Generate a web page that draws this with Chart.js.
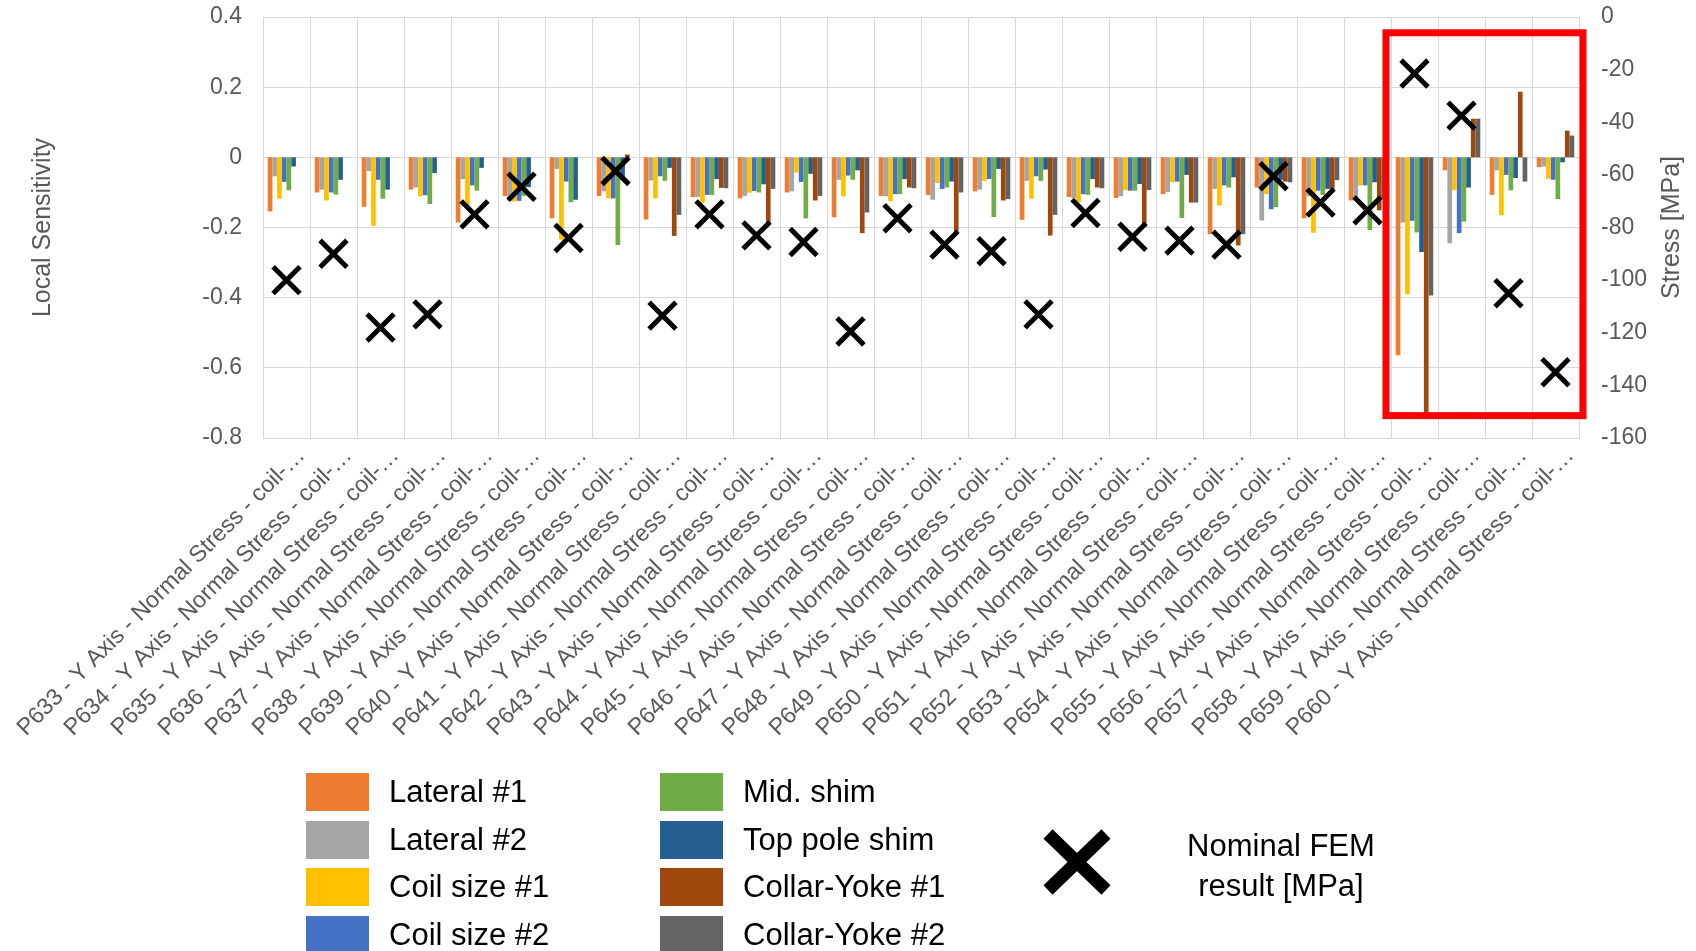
<!DOCTYPE html>
<html>
<head>
<meta charset="utf-8">
<script src="https://cdn.jsdelivr.net/npm/chart.js@4.4.0/dist/chart.umd.min.js"></script>
<style>
  body { margin: 0; background: #fff; font-family: "Liberation Sans", Arial, sans-serif; }
  #wrap { position: relative; width: 1696px; height: 951px; overflow: hidden; }
  #chart { position: absolute; left: 0; top: 0; }
  .key { position: absolute; height: 38px; line-height: 38px; font-size: 31px; color: #000; white-space: nowrap; }
  .key i { position: absolute; left: 0; top: 0; width: 63px; height: 38px; }
  .key span { position: absolute; left: 83px; top: 0; }
  #femKey { position: absolute; left: 1131px; top: 826px; width: 300px; text-align: center; font-size: 31px; line-height: 40px; color: #000; }
</style>
</head>
<body>
<div id="wrap">
  <canvas id="chart" width="1696" height="951"></canvas>
  <div id="legend"></div>
  <svg style="position:absolute;left:1035px;top:822px" width="84" height="80">
    <line x1="13" y1="12" x2="71" y2="68" stroke="#000" stroke-width="13"/>
    <line x1="71" y1="12" x2="13" y2="68" stroke="#000" stroke-width="13"/>
  </svg>
  <div id="femKey">Nominal FEM<br>result [MPa]</div>
</div>
<script>
const points = ["P633","P634","P635","P636","P637","P638","P639","P640","P641","P642","P643","P644","P645","P646",
  "P647","P648","P649","P650","P651","P652","P653","P654","P655","P656","P657","P658","P659","P660"];
const labels = points.map(p => p + " - Y Axis - Normal Stress - coil-…");

// local sensitivity per parameter (left axis)
const lateral1 = [-0.154,-0.100,-0.141,-0.092,-0.186,-0.110,-0.174,-0.110,-0.177,-0.113,-0.117,-0.100,-0.171,-0.110,
  -0.107,-0.097,-0.178,-0.113,-0.116,-0.105,-0.219,-0.086,-0.174,-0.123,-0.564,-0.037,-0.107,-0.028];
const lateral2 = [-0.054,-0.092,-0.039,-0.086,-0.062,-0.124,-0.033,-0.097,-0.066,-0.113,-0.110,-0.097,-0.064,-0.111,
  -0.121,-0.092,-0.067,-0.116,-0.111,-0.099,-0.090,-0.180,-0.111,-0.116,-0.186,-0.245,-0.037,-0.026];
const coilSize1 = [-0.118,-0.123,-0.195,-0.111,-0.140,-0.126,-0.235,-0.117,-0.117,-0.130,-0.101,-0.043,-0.111,-0.125,
  -0.073,-0.067,-0.118,-0.128,-0.094,-0.071,-0.137,-0.105,-0.215,-0.080,-0.390,-0.094,-0.165,-0.061];
const coilSize2 = [-0.070,-0.100,-0.064,-0.108,-0.080,-0.124,-0.069,-0.117,-0.054,-0.107,-0.096,-0.070,-0.052,-0.105,
  -0.090,-0.062,-0.054,-0.105,-0.095,-0.069,-0.080,-0.148,-0.095,-0.080,-0.181,-0.216,-0.050,-0.064];
const midShim = [-0.094,-0.106,-0.118,-0.133,-0.095,-0.110,-0.128,-0.250,-0.067,-0.107,-0.100,-0.174,-0.064,-0.105,
  -0.086,-0.170,-0.067,-0.107,-0.095,-0.173,-0.086,-0.142,-0.107,-0.207,-0.214,-0.183,-0.094,-0.119];
const topPoleShim = [-0.026,-0.064,-0.092,-0.045,-0.030,-0.085,-0.121,-0.064,-0.030,-0.062,-0.077,-0.047,-0.037,-0.062,
  -0.069,-0.033,-0.035,-0.062,-0.076,-0.050,-0.057,-0.064,-0.090,-0.071,-0.270,-0.086,-0.059,-0.014];
const collarYoke1 = [0,0,0,0,0,0,0,0.008,-0.224,-0.087,-0.190,-0.123,-0.216,-0.086,
  -0.212,-0.123,-0.223,-0.086,-0.198,-0.129,-0.251,-0.069,-0.092,-0.151,-0.730,0.110,0.187,0.076];
const collarYoke2 = [0,0,0,0,0,0,0,0,-0.164,-0.088,-0.090,-0.110,-0.157,-0.088,
  -0.100,-0.119,-0.164,-0.088,-0.093,-0.129,-0.219,-0.071,-0.065,-0.120,-0.394,0.110,-0.069,0.062];

// nominal FEM stress, MPa (right axis)
const femStress = [-100,-90,-118,-113,-75,-64.5,-84,-58.5,-113.5,-75,-83,-85.5,-119.5,-76.5,
  -86.5,-89,-113,-74.5,-83.5,-85,-86.5,-60.5,-70.5,-73.5,-21.5,-37.5,-105,-135];

const seriesNames = ["Lateral #1","Lateral #2","Coil size #1","Coil size #2","Mid. shim","Top pole shim","Collar-Yoke #1","Collar-Yoke #2"];
const seriesData = [lateral1, lateral2, coilSize1, coilSize2, midShim, topPoleShim, collarYoke1, collarYoke2];
const seriesColors = ["#ED7D31","#A5A5A5","#FFC000","#4472C4","#70AD47","#255E91","#9E480E","#636363"];

const FONT = '"Liberation Sans", Arial, sans-serif';
const GRID = "#d9d9d9";
const TXT = "#595959";

// html legend, two columns of four
const legend = document.getElementById("legend");
seriesNames.forEach((name, i) => {
  const col = Math.floor(i / 4), row = i % 4;
  const d = document.createElement("div");
  d.className = "key";
  d.style.left = (col ? 660 : 306) + "px";
  d.style.top = (773 + row * 47.5) + "px";
  d.innerHTML = '<i style="background:' + seriesColors[i] + '"></i><span>' + name + "</span>";
  legend.appendChild(d);
});

const overlay = {
  id: "overlay",
  afterDraw(chart) {
    const c = chart.ctx, xs = chart.scales.x, y1 = chart.scales.y1;
    // right axis title, reads bottom to top
    c.save();
    c.translate(1672, (chart.chartArea.top + chart.chartArea.bottom) / 2);
    c.rotate(-Math.PI / 2);
    c.font = "25px " + FONT;
    c.fillStyle = TXT;
    c.textAlign = "center";
    c.textBaseline = "middle";
    c.fillText("Stress [MPa]", 0, 0);
    c.restore();
    // red highlight box around the last four points
    const left = (xs.getPixelForValue(23) + xs.getPixelForValue(24)) / 2 - 5;
    const right = chart.chartArea.right + 4;
    const top = y1.getPixelForValue(-6);
    const bottom = y1.getPixelForValue(-151.5);
    c.save();
    c.strokeStyle = "#ff0000";
    c.lineWidth = 7;
    c.strokeRect(left, top, right - left, bottom - top);
    c.restore();
  }
};

const datasets = seriesNames.map((name, i) => ({
  label: name,
  data: seriesData[i],
  backgroundColor: seriesColors[i],
  borderWidth: 0,
  yAxisID: "y",
  categoryPercentage: 0.8,
  barPercentage: 1.0,
  order: 1
}));
datasets.push({
  type: "line",
  label: "Nominal FEM result [MPa]",
  data: femStress,
  yAxisID: "y1",
  showLine: false,
  pointStyle: "crossRot",
  pointRadius: 19,
  pointBorderWidth: 5,
  borderWidth: 5,
  borderColor: "#000",
  backgroundColor: "#000",
  order: 0
});

new Chart(document.getElementById("chart"), {
  type: "bar",
  data: { labels: labels, datasets: datasets },
  options: {
    responsive: false,
    animation: false,
    layout: { autoPadding: false, padding: { top: 17, left: 0, right: 0, bottom: 0 } },
    plugins: { legend: { display: false }, tooltip: { enabled: false } },
    scales: {
      x: {
        grid: { color: GRID, drawTicks: false, offset: true },
        border: { color: GRID },
        ticks: { autoSkip: false, maxRotation: 45, minRotation: 45, color: TXT, padding: 4, labelOffset: 15,
          font: { size: 23.3, family: FONT } },
        afterFit(s) { s.height = 513; s.paddingLeft = 0; s.paddingRight = 0; }
      },
      y: {
        position: "left",
        min: -0.8, max: 0.4,
        grid: { color: GRID, drawTicks: false },
        border: { color: GRID },
        ticks: { stepSize: 0.2, padding: 21, color: TXT, font: { size: 23, family: FONT },
          callback: v => String(+v.toFixed(1)) },
        title: { display: true, text: "Local Sensitivity", color: TXT, font: { size: 25, family: FONT },
          padding: { top: 28, bottom: 0 } },
        afterFit(s) { s.width = 263; s.paddingTop = 0; s.paddingBottom = 0; }
      },
      y1: {
        position: "right",
        min: -160, max: 0,
        grid: { drawOnChartArea: false, drawTicks: false },
        border: { display: false },
        ticks: { stepSize: 20, padding: 22, color: TXT, font: { size: 23, family: FONT } },
        afterFit(s) { s.width = 117; s.paddingTop = 0; s.paddingBottom = 0; }
      }
    }
  },
  plugins: [overlay]
});
</script>
</body>
</html>
